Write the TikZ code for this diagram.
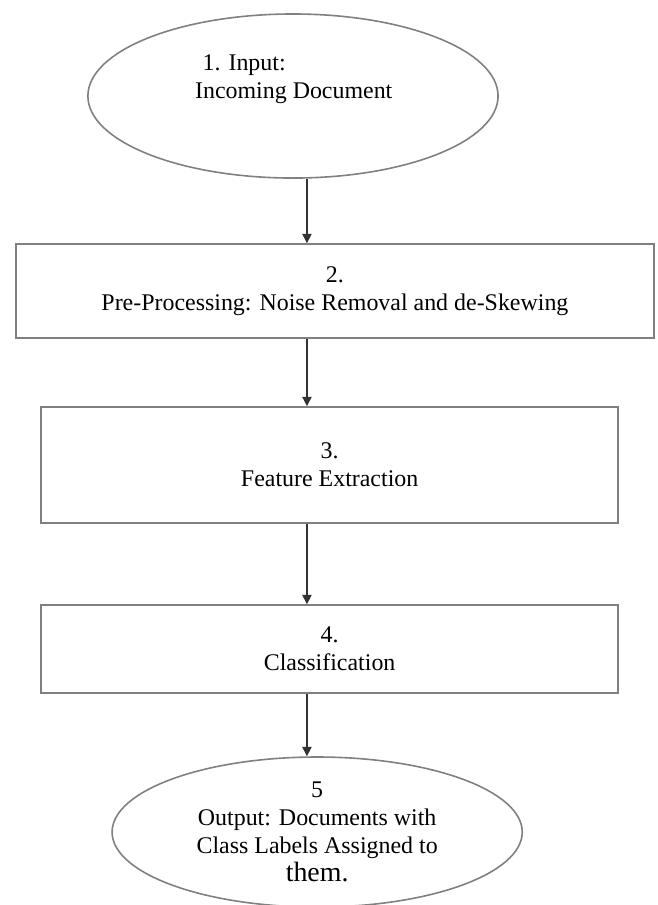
\documentclass[tikz,border=0pt]{standalone}
\usepackage{tikz}
\usepackage{xcolor}
\usepackage{fontspec}
\setmainfont{Liberation Serif}
\usetikzlibrary{shapes.geometric}
\usetikzlibrary{arrows.meta}
\definecolor{edgegray}{gray}{0.5}

\begin{document}
\begin{tikzpicture}[
    stage/.style={draw=edgegray, line width=1.2pt, inner sep=0pt, align=center,
        font=\fontsize{18}{21}\selectfont},
    oval/.style={stage, ellipse},
    flow/.style={-{Triangle[length=7pt,width=7pt]}, line width=0.9pt, black!80}]
    \useasboundingbox (0, 0) rectangle (17.38, -23.94);
    \coordinate (axis) at (8.12, 0);
    \path (7.75, -2.54) node [oval, minimum width=10.85cm, minimum height=4.34cm] (in) {};
    \path (7.77, -2.09) node [align=left, font=\fontsize{18}{21}\selectfont] (intext)
	{\hspace*{0.2cm}1. Input:\\Incoming Document};
    \path (8.86, -7.70) node [stage, minimum width=16.88cm, minimum height=2.49cm] (pre)
	{2.\\Pre-Processing: Noise Removal and de-Skewing};
    \path (8.72, -12.30) node [stage, minimum width=15.27cm, minimum height=3.07cm] (fe)
	{3.\\Feature Extraction};
    \path (8.72, -17.17) node [stage, minimum width=15.27cm, minimum height=2.33cm] (cl)
	{4.\\Classification};
    \path (8.39, -22.01) node [oval, minimum width=10.85cm, minimum height=3.97cm] (out)
	{5\\Output: Documents with\\Class Labels Assigned to\\{\fontsize{21}{22}\selectfont them.}};
    \draw [flow] (axis |- in.south) -- (axis |- pre.north);
    \draw [flow] (axis |- pre.south) -- (axis |- fe.north);
    \draw [flow] (axis |- fe.south) -- (axis |- cl.north);
    \draw [flow] (axis |- cl.south) -- (axis |- out.north);
\end{tikzpicture}
\end{document}
